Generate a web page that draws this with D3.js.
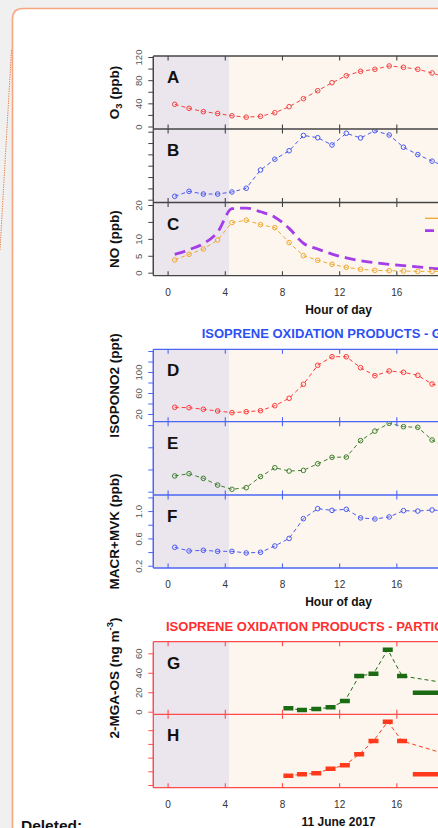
<!DOCTYPE html>
<html><head><meta charset="utf-8">
<script src="https://cdn.jsdelivr.net/npm/d3@7"></script>
<style>
body{margin:0;background:#f0f0f0;}
svg{display:block;font-family:Arial,"Liberation Sans",sans-serif;}
</style>
</head><body>
<svg id="c" width="438" height="828"></svg>
<script>
// ---------- DATA ----------
const hours = [0.5,1.5,2.5,3.5,4.5,5.5,6.5,7.5,8.5,9.5,10.5,11.5,12.5,13.5,14.5,15.5,16.5,17.5,18.5,19.5];
const o3 = [38.3,31.4,25.6,22.5,18.5,16.1,17.6,23.8,34.2,48,61.8,75.6,87.7,95.3,98.8,104.5,102.2,98.8,92.4,84];
const panelB = [0.30,0.74,0.50,0.50,0.68,1.01,2.62,3.57,4.32,5.67,5.47,4.83,5.86,5.45,6.09,5.71,4.63,3.98,3.40,2.9];
const noMeasured = [3.76,5.44,7.0,9.67,14.8,15.5,14.2,13.3,8.9,5.03,3.67,2.48,1.6,1.0,0.7,0.6,0.5,0.4,0.4,0.4];
const noModel = [5.4,6.8,8.6,12.0,18.9,19.1,18.0,16.4,13.1,8.7,7.0,5.5,4.4,3.55,2.96,2.48,2.07,1.69,1.3,1.1];
const isopono2 = [32.8,32,29,25.7,22.5,24.4,26.3,35.8,49.9,76.6,112.8,129.1,129.1,108.2,93,101.9,99.4,93.7,77.1,70];
const panelE = [0.71,0.81,0.60,0.30,0.11,0.18,0.68,1.08,0.93,0.96,1.26,1.55,1.56,2.30,2.73,3.08,2.93,2.90,2.33,2.0];
const macrMvk = [0.47,0.416,0.426,0.411,0.411,0.387,0.397,0.489,0.60,0.889,1.035,1.01,1.026,0.90,0.884,0.914,1.006,1.0,1.016,1.0];

const filterStart = [8.1,9.05,10.05,11.05,12.05,13.05,14.05,15.05,16.05,17.15];
const filterEnd   = [8.8,9.75,10.75,11.75,12.75,13.75,14.75,15.75,16.75,24.5];
const mgaOS  = [3.5,1.7,2.8,4.5,11,36.7,39,63.7,36.7,19.5];
const panelH = [0.68,0.78,0.85,1.19,1.44,2.24,3.21,4.62,3.21,0.78];
const trendCount = 9;          // dashed trend joins the first 9 day filters
const tailHour = 21;           // next (off-picture) trend point
const mgaTail = 26;
const hTail = 1.78;

const xTicks = [0,4,8,12,16,20,24];
const xTickLabels = [0,4,8,12,16];
const sunrise = 4.3;

// ---------- SETUP ----------
const svg = d3.select('#c');
svg.append('rect').attr('width',438).attr('height',828).attr('fill','#f0f0f0');
svg.append('path').attr('d','M12.5,840 V19 Q12.5,8.5 23,8.5 H450 V840 Z').attr('fill','#fff');
svg.append('path').attr('d','M12.5,840 V19 Q12.5,8.5 23,8.5 H450').attr('fill','none')
  .attr('stroke','#f6a680').attr('stroke-width',1.6);
svg.append('line').attr('x1',11.5).attr('y1',50).attr('x2',0).attr('y2',250)
  .attr('stroke','#e97c45').attr('stroke-width',1).attr('stroke-dasharray','1.3,1.1');

const x = d3.scaleLinear().domain([-1,25]).range([153.3,525]);
const NIGHT = '#ebe5ee', DAY = '#fdf6ee';

const groups = [
  {top:56, bottom:275.7, color:'#444', xlabel:'Hour of day'},
  {top:349.3, bottom:568, color:'#4a66f2', xlabel:'Hour of day',
   title:'ISOPRENE OXIDATION PRODUCTS - GAS PHASE', titleColor:'#2d50f5', titleX:201.7},
  {top:641.7, bottom:787.7, color:'#ff4b4b', xlabel:'11 June 2017',
   title:'ISOPRENE OXIDATION PRODUCTS - PARTICLE PHASE', titleColor:'#ff2f2f', titleX:166}
];

const panels = [
  {id:'A', g:0, top:56, bottom:129, y:d3.scaleLinear().domain([0,120]).range([126.5,57]),
   ticks:d3.range(0,121,20), labels:[0,40,80,120], fmt:d3.format('d')},
  {id:'B', g:0, top:129, bottom:202.5, y:d3.scaleLinear().domain([0,6]).range([199.7,131.7]),
   ticks:d3.range(0,7,1), labels:[], fmt:d3.format('d')},
  {id:'C', g:0, top:202.5, bottom:275.7, y:d3.scaleLinear().domain([0,20]).range([272.7,205]),
   ticks:[0,5,10,15,20], labels:[0,5,10,20], fmt:d3.format('d')},
  {id:'D', g:1, top:349.3, bottom:421.7, y:d3.scaleLinear().domain([0,140]).range([424.5,351]),
   ticks:d3.range(20,141,20), labels:[20,60,100], fmt:d3.format('d')},
  {id:'E', g:1, top:421.7, bottom:495, y:d3.scaleLinear().domain([0,3]).range([491.7,425.1]),
   ticks:[0,1,2,3], labels:[], fmt:d3.format('d')},
  {id:'F', g:1, top:495, bottom:568, y:d3.scaleLinear().domain([0,1.2]).range([579.4,497.4]),
   ticks:[0.2,0.4,0.6,0.8,1.0,1.2], labels:[0.2,0.6,1.0], fmt:d3.format('.1f')},
  {id:'G', g:2, top:641.7, bottom:714.3, y:d3.scaleLinear().domain([0,60]).range([711.7,653.3]),
   ticks:[0,20,40,60], labels:[0,20,40,60], fmt:d3.format('d')},
  {id:'H', g:2, top:714.3, bottom:787.7, y:d3.scaleLinear().domain([0,4]).range([785,730.2]),
   ticks:[0,1,2,3,4], labels:[], fmt:d3.format('d')}
];
const P = {}; panels.forEach(p => P[p.id] = p);

const defs = svg.append('defs');

// ---------- PANELS ----------
panels.forEach(p => {
  const grp = groups[p.g];
  const g = svg.append('g');
  g.append('rect').attr('x',x(-1)).attr('y',p.top).attr('width',x(sunrise)-x(-1)).attr('height',p.bottom-p.top).attr('fill',NIGHT);
  g.append('rect').attr('x',x(sunrise)).attr('y',p.top).attr('width',x(25)-x(sunrise)).attr('height',p.bottom-p.top).attr('fill',DAY);
  defs.append('clipPath').attr('id','clip'+p.id).append('rect')
    .attr('x',x(-1)).attr('y',p.top).attr('width',x(25)-x(-1)).attr('height',p.bottom-p.top);
  p.plot = svg.append('g').attr('clip-path',`url(#clip${p.id})`);

  // x ticks inward (top & bottom)
  const xb = svg.append('g').attr('transform',`translate(0,${p.bottom})`)
    .call(d3.axisBottom(x).tickValues(xTicks).tickSize(-4.5).tickFormat(''));
  const xt = svg.append('g').attr('transform',`translate(0,${p.top})`)
    .call(d3.axisTop(x).tickValues(xTicks).tickSize(-4.5).tickFormat(''));
  [xb,xt].forEach(a => { a.select('.domain').remove(); a.selectAll('line').attr('stroke',grp.color).attr('stroke-width',1.1); });

  // y axis
  const ya = svg.append('g').attr('transform',`translate(${x(-1)},0)`)
    .call(d3.axisLeft(p.y).tickValues(p.ticks).tickSize(5).tickFormat(d => p.labels.some(l => Math.abs(l-d)<1e-9) ? p.fmt(d) : ''));
  ya.select('.domain').attr('d',`M0,${p.y(p.ticks[0])}V${p.y(p.ticks[p.ticks.length-1])}`).attr('stroke',grp.color);
  ya.selectAll('line').attr('stroke',grp.color);
  ya.selectAll('text').attr('x',null).attr('dy',null).attr('text-anchor','middle')
    .attr('transform','translate(-11.6,0) rotate(-90)')
    .attr('font-size',9.5).attr('fill','#555').attr('font-family','Arial, "Liberation Sans", sans-serif');

  // panel letter
  svg.append('text').attr('x',167).attr('y',p.top+27).attr('font-size',17).attr('font-weight','bold')
    .attr('fill','#111').text(p.id);
});

// group frames, titles, x labels
groups.forEach((grp,i) => {
  const gp = panels.filter(p => p.g===i);
  const f = svg.append('g').attr('stroke',grp.color).attr('stroke-width',1.3).attr('fill','none');
  f.append('line').attr('x1',x(-1)).attr('x2',x(25)).attr('y1',grp.top).attr('y2',grp.top);
  gp.forEach(p => f.append('line').attr('x1',x(-1)).attr('x2',x(25)).attr('y1',p.bottom).attr('y2',p.bottom));
  f.append('line').attr('x1',x(-1)).attr('x2',x(-1)).attr('y1',grp.top).attr('y2',grp.bottom);

  const lab = svg.append('g').attr('transform',`translate(0,${grp.bottom})`)
    .call(d3.axisBottom(x).tickValues(xTickLabels).tickSizeInner(0).tickSizeOuter(0).tickPadding(13).tickFormat(d3.format('d')));
  lab.select('.domain').remove();
  lab.selectAll('text').attr('font-size',10).attr('fill','#333').attr('font-family','Arial, "Liberation Sans", sans-serif');

  svg.append('text').attr('x',338.5).attr('y',grp.bottom+38).attr('text-anchor','middle')
    .attr('font-size',12).attr('font-weight','bold').attr('fill','#111').text(grp.xlabel);
  if (grp.title) {
    svg.append('text').attr('x',grp.titleX).attr('y',grp.top-11).attr('font-size',13)
      .attr('font-weight','bold').attr('fill',grp.titleColor).text(grp.title);
  }
});

// y-axis titles
function yTitle(p, parts) {
  const cy = (p.top+p.bottom)/2;
  const t = svg.append('text').attr('transform',`translate(118.5,${cy}) rotate(-90)`)
    .attr('text-anchor','middle').attr('font-size',13.5).attr('font-weight','bold').attr('fill','#111');
  parts.forEach(pt => {
    const s = t.append('tspan').text(pt.t);
    if (pt.sub) s.attr('font-size',9.5).attr('dy',3);
    if (pt.sup) s.attr('font-size',9.5).attr('dy',-6);
    if (pt.back) s.attr('dy',pt.back);
  });
}
yTitle(P.A,[{t:'O'},{t:'3',sub:true},{t:' (ppb)',back:-3}]);
yTitle(P.C,[{t:'NO (ppb)'}]);
yTitle(P.D,[{t:'ISOPONO2 (ppt)'}]);
yTitle(P.F,[{t:'MACR+MVK (ppb)'}]);
yTitle(P.G,[{t:'2-MGA-OS (ng m'},{t:'-3',sup:true},{t:')',back:6}]);

// ---------- SERIES ----------
function series(p, vals, color) {
  const pts = hours.map((h,i) => [x(h), p.y(vals[i])]);
  p.plot.append('path').attr('d',d3.line()(pts)).attr('fill','none').attr('stroke',color)
    .attr('stroke-width',1).attr('stroke-dasharray','4,3');
  p.plot.selectAll(null).data(pts).join('circle').attr('cx',d=>d[0]).attr('cy',d=>d[1]).attr('r',2.3)
    .attr('fill','none').attr('stroke',color).attr('stroke-width',1);
}
series(P.A, o3, '#f24444');
series(P.B, panelB, '#4a5af0');
P.C.plot.append('path').attr('d',d3.line().curve(d3.curveMonotoneX)(hours.map((h,i)=>[x(h),P.C.y(noModel[i])])))
  .attr('fill','none').attr('stroke','#a43ee8').attr('stroke-width',2.8).attr('stroke-dasharray','11,6');
series(P.C, noMeasured, '#f0a830');
series(P.D, isopono2, '#ff3838');
series(P.E, panelE, '#3d7f2c');
series(P.F, macrMvk, '#4a5af0');

// legend (NO panel)
svg.append('line').attr('x1',425).attr('x2',450).attr('y1',218.3).attr('y2',218.3).attr('stroke','#f0a830').attr('stroke-width',1.3);
svg.append('line').attr('x1',425).attr('x2',450).attr('y1',230.7).attr('y2',230.7).attr('stroke','#a43ee8').attr('stroke-width',2.8).attr('stroke-dasharray','9,5');

// particle phase
function particle(p, vals, tail, color) {
  const mids = filterStart.slice(0,trendCount).map((s,i) => [x((s+filterEnd[i])/2), p.y(vals[i])]);
  mids.push([x(tailHour), p.y(tail)]);
  p.plot.append('path').attr('d',d3.line()(mids)).attr('fill','none').attr('stroke',color)
    .attr('stroke-width',1).attr('stroke-dasharray','4,3');
  p.plot.selectAll(null).data(vals).join('line')
    .attr('x1',(d,i)=>x(filterStart[i])).attr('x2',(d,i)=>x(filterEnd[i]))
    .attr('y1',d=>p.y(d)).attr('y2',d=>p.y(d)).attr('stroke',color).attr('stroke-width',4.5);
}
particle(P.G, mgaOS, mgaTail, '#1b6b12');
particle(P.H, panelH, hTail, '#ff3a1c');

// comment text
svg.append('text').attr('x',21).attr('y',831).attr('font-size',15.5).attr('font-weight','bold').attr('fill','#111').text('Deleted:');
</script>
</body></html>
